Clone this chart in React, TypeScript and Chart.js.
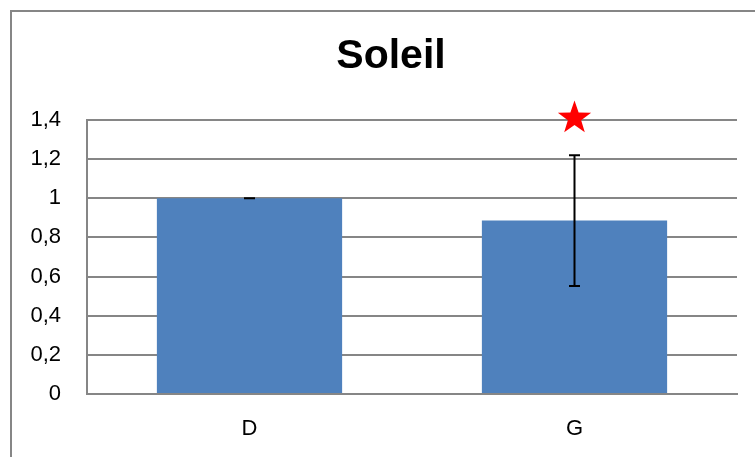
import React, { useEffect, useRef } from "react";
import { Chart, registerables } from "chart.js";

Chart.register(...registerables);

const titleText = "Soleil";
const categories = ["D", "G"];
const values = [1, 0.886];
const errors = [0, 0.334];
const starValues: (number | null)[] = [null, 1.42];
const yTicks = [0, 0.2, 0.4, 0.6, 0.8, 1, 1.2, 1.4];

const FONT = "'Liberation Sans', Arial, sans-serif";
const GRID = "#868686";

const decorPlugin = {
  id: "decor",
  beforeDraw(chart: any) {
    const ctx = chart.ctx;
    ctx.save();
    ctx.fillStyle = "#ffffff";
    ctx.fillRect(0, 0, chart.width, chart.height);
    ctx.strokeStyle = GRID;
    ctx.lineWidth = 2;
    ctx.strokeRect(11, 11, 800, 500);
    ctx.fillStyle = "#000";
    ctx.font = `bold 41px ${FONT}`;
    ctx.textAlign = "center";
    ctx.textBaseline = "alphabetic";
    ctx.fillText(titleText, 391, 68);
    ctx.restore();
  },
  afterDatasetsDraw(chart: any) {
    const ctx = chart.ctx;
    const meta = chart.getDatasetMeta(0);
    const y = chart.scales.y;
    ctx.save();
    ctx.strokeStyle = "#000";
    ctx.lineWidth = 2;
    meta.data.forEach((bar: any, i: number) => {
      const v = values[i];
      const e = errors[i];
      const x = bar.x;
      const yt = y.getPixelForValue(v + e);
      const yb = y.getPixelForValue(v - e);
      const cap = 5.5;
      ctx.beginPath();
      ctx.moveTo(x, yt);
      ctx.lineTo(x, yb);
      ctx.moveTo(x - cap, yt);
      ctx.lineTo(x + cap, yt);
      ctx.moveTo(x - cap, yb);
      ctx.lineTo(x + cap, yb);
      ctx.stroke();
      const s = starValues[i];
      if (s != null) {
        const cy = y.getPixelForValue(s);
        const R = 17.5;
        const r = R * 0.4;
        ctx.beginPath();
        for (let k = 0; k < 10; k++) {
          const rad = k % 2 === 0 ? R : r;
          const a = -Math.PI / 2 + (k * Math.PI) / 5;
          const px = x + rad * Math.cos(a);
          const py = cy + 2 + rad * Math.sin(a);
          if (k === 0) ctx.moveTo(px, py);
          else ctx.lineTo(px, py);
        }
        ctx.closePath();
        ctx.fillStyle = "#ff0000";
        ctx.fill();
      }
    });
    ctx.restore();
  },
};

export default function App() {
  const ref = useRef<HTMLCanvasElement>(null);
  useEffect(() => {
    if (!ref.current) return;
    const chart = new Chart(ref.current, {
      type: "bar",
      data: {
        labels: categories,
        datasets: [
          {
            data: values,
            backgroundColor: "#4f81bd",
            borderWidth: 0,
            categoryPercentage: 1,
            barPercentage: 0.57,
          },
        ],
      },
      options: {
        animation: false,
        responsive: false,
        devicePixelRatio: 1,
        layout: { padding: { left: 0, right: 18, top: 120, bottom: 0 } },
        plugins: {
          legend: { display: false },
          title: { display: false },
          tooltip: { enabled: false },
        },
        scales: {
          x: {
            grid: { display: false, drawTicks: false },
            border: { display: true, color: GRID, width: 2 },
            ticks: {
              color: "#000",
              font: { family: FONT, size: 22 },
              padding: 22,
            },
            afterFit(scale: any) {
              scale.height = 63;
            },
          },
          y: {
            min: 0,
            max: 1.4,
            afterBuildTicks(scale: any) {
              scale.ticks = yTicks.map((v) => ({ value: v }));
            },
            grid: { color: GRID, lineWidth: 2, drawTicks: false },
            border: { display: true, color: GRID, width: 2 },
            ticks: {
              color: "#000",
              font: { family: FONT, size: 22 },
              padding: 26,
              callback: (v: any) => String(Math.round(Number(v) * 10) / 10).replace(".", ","),
            },
            afterFit(scale: any) {
              scale.width = 87;
            },
          },
        },
      },
      plugins: [decorPlugin],
    });
    return () => chart.destroy();
  }, []);
  return (
    <div style={{ position: "fixed", left: 0, top: 0, width: 755, height: 457 }}>
      <canvas ref={ref} width={755} height={457} style={{ width: 755, height: 457, display: "block" }} />
    </div>
  );
}
